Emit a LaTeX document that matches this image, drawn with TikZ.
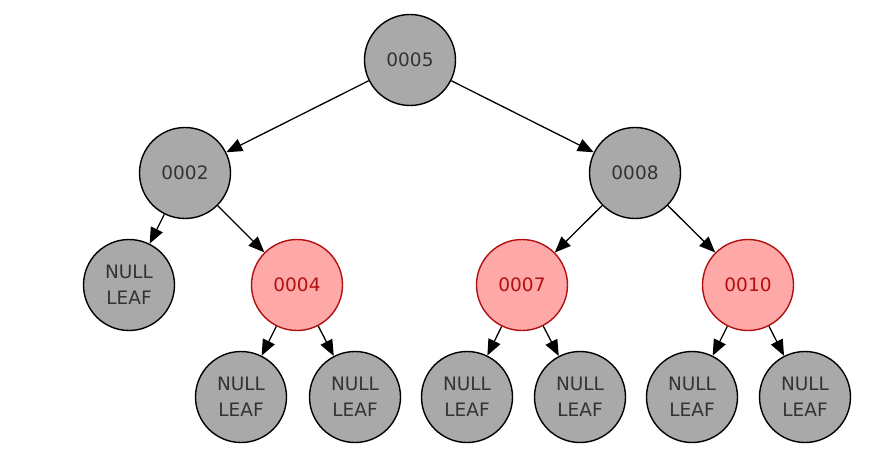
\documentclass[tikz,border=0pt]{standalone}
\usepackage{fontspec}
\setmainfont{DejaVu Sans}
\usetikzlibrary{arrows.meta}
\definecolor{nodegray}{HTML}{A9A9A9}
\definecolor{nodered}{HTML}{FFA8A8}
\definecolor{redline}{HTML}{B01010}
\tikzset{
  blk/.style={circle, draw=black, line width=1.4pt, fill=nodegray, minimum size=91pt, inner sep=0pt,
    font=\fontsize{18.5}{26}\selectfont, text=black!80, align=center},
  rd/.style={blk, draw=redline, fill=nodered, text=redline},
  edge/.style={draw=black, line width=1.3pt, -{Triangle[length=16pt,width=13pt]}, shorten >=0pt}
}
\begin{document}
\begin{tikzpicture}[x=1pt,y=-1pt]
\useasboundingbox (0,0) rectangle (880,470);
\node[blk] (n5) at (410,60) {0005};
\node[blk] (n2) at (185,173) {0002};
\node[blk] (n8) at (635,173) {0008};
\node[blk] (l1) at (129,285) {NULL\\LEAF};
\node[rd] (n4) at (297,285) {0004};
\node[rd] (n7) at (522,285) {0007};
\node[rd] (n10) at (748,285) {0010};
\node[blk] (l2) at (241,397) {NULL\\LEAF};
\node[blk] (l3) at (355,397) {NULL\\LEAF};
\node[blk] (l4) at (467,397) {NULL\\LEAF};
\node[blk] (l5) at (580,397) {NULL\\LEAF};
\node[blk] (l6) at (692,397) {NULL\\LEAF};
\node[blk] (l7) at (805,397) {NULL\\LEAF};
\draw[edge] (n5) -- (n2);
\draw[edge] (n5) -- (n8);
\draw[edge] (n2) -- (l1);
\draw[edge] (n2) -- (n4);
\draw[edge] (n8) -- (n7);
\draw[edge] (n8) -- (n10);
\draw[edge] (n4) -- (l2);
\draw[edge] (n4) -- (l3);
\draw[edge] (n7) -- (l4);
\draw[edge] (n7) -- (l5);
\draw[edge] (n10) -- (l6);
\draw[edge] (n10) -- (l7);
\end{tikzpicture}
\end{document}
